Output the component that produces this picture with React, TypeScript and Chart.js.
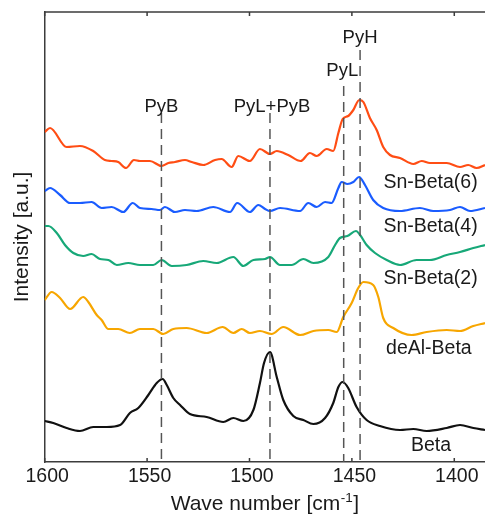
import React, { useEffect, useRef } from "react";
import { Chart, registerables } from "chart.js";

Chart.register(...registerables);

const FONT = '"Liberation Sans", Arial, Helvetica, sans-serif';
const TEXT = "#1a1a1a";
const AXIS = "#3c3c3c";

// x axis (wave number, cm-1), reversed
const xMin = 1385;
const xMax = 1600;
const xTicks = [1400, 1450, 1500, 1550, 1600];
const yMin = 0;
const yMax = 4.5;

const seriesNames = ["Sn-Beta(6)", "Sn-Beta(4)", "Sn-Beta(2)", "deAl-Beta", "Beta"];

const snBeta6Wn = [1600, 1597.4, 1589.3, 1582.8, 1576.3, 1570.6, 1567.3, 1564.1, 1560.3, 1556.4, 1553.5, 1548.6, 1542.9, 1539.6, 1536.4, 1531.5, 1528.2, 1522.6, 1516.8, 1513.6, 1508.7, 1505.5, 1499.8, 1494.9, 1490, 1486.7, 1481.1, 1475, 1470.5, 1467.2, 1462.3, 1459.1, 1456.6, 1454.5, 1451.8, 1449.3, 1446.4, 1444.4, 1441.2, 1437.9, 1434.7, 1431.4, 1426.5, 1420, 1415.9, 1411.9, 1403.7, 1397.2, 1393.2, 1389.1, 1385];
const snBeta6I = [3.30, 3.34, 3.15, 3.16, 3.11, 3.02, 3.01, 3.00, 2.94, 3.02, 3.01, 3.01, 2.96, 2.99, 3.00, 3.02, 3.00, 2.97, 3.02, 3.03, 2.95, 3.06, 3.01, 3.13, 3.08, 3.11, 3.07, 3.01, 3.09, 3.06, 3.13, 3.11, 3.29, 3.43, 3.46, 3.52, 3.62, 3.60, 3.44, 3.32, 3.15, 3.07, 3.04, 2.98, 3.01, 2.99, 2.99, 2.95, 2.97, 2.94, 2.97];

const snBeta4Wn = [1600, 1597.4, 1592.5, 1587.6, 1582.8, 1577.1, 1572.2, 1567.3, 1561.6, 1557, 1553.5, 1547.8, 1543.7, 1541.3, 1536.4, 1531.5, 1525.8, 1517.7, 1509.5, 1506, 1499.8, 1495.7, 1492.4, 1490, 1485.1, 1475.3, 1471.3, 1467.2, 1463.1, 1459.9, 1456.6, 1455, 1452.2, 1449.3, 1446.5, 1443.6, 1439.6, 1434.7, 1426.5, 1416.8, 1410.3, 1402.1, 1397.2, 1392.3, 1385];
const snBeta4I = [2.71, 2.74, 2.67, 2.59, 2.59, 2.60, 2.54, 2.55, 2.50, 2.59, 2.54, 2.53, 2.52, 2.55, 2.50, 2.52, 2.51, 2.55, 2.50, 2.59, 2.50, 2.57, 2.53, 2.51, 2.54, 2.51, 2.59, 2.55, 2.60, 2.59, 2.74, 2.80, 2.78, 2.80, 2.85, 2.77, 2.62, 2.54, 2.51, 2.54, 2.51, 2.52, 2.55, 2.51, 2.54];

const snBeta2Wn = [1600, 1598.2, 1594.1, 1590.1, 1586, 1581.2, 1577.1, 1573, 1568.9, 1564.8, 1559.2, 1553.5, 1547, 1542.9, 1538, 1530.7, 1522.6, 1516, 1507.9, 1503, 1498.1, 1492.4, 1490, 1485.1, 1479.4, 1473.7, 1468.8, 1461.5, 1458.2, 1455.8, 1452.2, 1448, 1446, 1442.8, 1438.7, 1433, 1426.5, 1418.4, 1411.9, 1403.7, 1397.2, 1390.7, 1385];
const snBeta2I = [2.36, 2.36, 2.29, 2.17, 2.09, 2.06, 2.08, 2.03, 2.02, 1.97, 1.99, 1.97, 1.97, 2.02, 1.96, 1.97, 2.01, 1.99, 2.05, 1.96, 2.02, 2.03, 2.05, 1.97, 1.97, 2.03, 1.99, 2.05, 2.17, 2.24, 2.26, 2.31, 2.27, 2.17, 2.09, 2.02, 1.97, 2.02, 2.02, 2.07, 2.10, 2.14, 2.17];

const deAlBetaWn = [1600, 1596.6, 1592.5, 1587.6, 1581.2, 1578.7, 1574.6, 1572.2, 1568.9, 1564.1, 1558.4, 1553.5, 1547, 1542.1, 1537.2, 1530.7, 1520.9, 1513.1, 1507.9, 1503.8, 1499.8, 1494.9, 1489.2, 1483.5, 1475.3, 1468.8, 1461.5, 1457.4, 1454.2, 1450.1, 1446.9, 1444.4, 1439.6, 1437.1, 1434.7, 1429.8, 1420.8, 1413.5, 1403.7, 1397.2, 1390.7, 1385];
const deAlBetaI = [1.62, 1.70, 1.64, 1.53, 1.65, 1.60, 1.47, 1.42, 1.33, 1.33, 1.29, 1.33, 1.33, 1.28, 1.33, 1.34, 1.29, 1.35, 1.29, 1.33, 1.29, 1.31, 1.28, 1.35, 1.27, 1.31, 1.32, 1.30, 1.45, 1.59, 1.74, 1.80, 1.77, 1.65, 1.44, 1.34, 1.27, 1.30, 1.32, 1.31, 1.36, 1.39];

const betaWn = [1600, 1595.8, 1589.3, 1582.8, 1576.3, 1569.7, 1563.2, 1558.4, 1554.3, 1549.4, 1545.3, 1542.4, 1540.4, 1537.2, 1533.9, 1529.1, 1520.9, 1512.8, 1507.9, 1503, 1498.1, 1494.9, 1492.9, 1490, 1486.7, 1483.5, 1478.6, 1473.7, 1468.8, 1463.1, 1459.1, 1456.6, 1454.5, 1451.8, 1447.7, 1442.8, 1436.3, 1426.5, 1420, 1413.5, 1403.7, 1397.2, 1390.7, 1385];
const betaI = [0.41, 0.39, 0.34, 0.31, 0.35, 0.35, 0.37, 0.49, 0.54, 0.67, 0.79, 0.83, 0.77, 0.64, 0.57, 0.48, 0.45, 0.40, 0.44, 0.41, 0.52, 0.79, 0.99, 1.10, 0.85, 0.62, 0.46, 0.42, 0.38, 0.44, 0.59, 0.75, 0.80, 0.74, 0.55, 0.42, 0.36, 0.32, 0.33, 0.31, 0.34, 0.37, 0.34, 0.32];

// reference bands (dashed lines)
const bandNames = ["PyB", "PyL+PyB", "PyL", "PyH"];
const bandWn = [1543, 1490, 1454, 1446];
const bandTop = [3.49, 3.49, 3.76, 4.12];

const seriesColors = ["#ff4d14", "#1a5cff", "#17a878", "#f7a600", "#111111"];

function pts(wn: number[], v: number[]) {
  return wn.map((x, i) => ({ x, y: v[i] }));
}

const decorPlugin = {
  id: "decor",
  afterDraw(chart: any) {
    const { ctx, chartArea: a, scales } = chart;
    const xs = scales.x;
    const ys = scales.y;
    ctx.save();
    // top frame + inward ticks
    ctx.strokeStyle = AXIS;
    ctx.lineWidth = 1.5;
    ctx.beginPath();
    ctx.moveTo(a.left, a.top);
    ctx.lineTo(a.right + 2, a.top);
    for (const t of xTicks) {
      const px = xs.getPixelForValue(t);
      ctx.moveTo(px, a.top);
      ctx.lineTo(px, a.top + 4);
      ctx.moveTo(px, a.bottom);
      ctx.lineTo(px, a.bottom - 4);
    }
    ctx.stroke();

    ctx.fillStyle = TEXT;
    ctx.textAlign = "center";
    ctx.textBaseline = "alphabetic";
    // band labels
    ctx.font = `18.5px ${FONT}`;
    const bandLabelY = [3.505, 3.505, 3.86, 4.19];
    const bandLabelWn = [1543, 1489, 1454.7, 1446];
    bandNames.forEach((n, i) => {
      ctx.fillText(n, xs.getPixelForValue(bandLabelWn[i]), ys.getPixelForValue(bandLabelY[i]));
    });
    // series labels
    ctx.font = `19.5px ${FONT}`;
    const labelY = [2.743, 2.303, 1.78, 1.08, 0.113];
    const labelWn = [1411.6, 1411.6, 1411.6, 1412.4, 1411.4];
    seriesNames.forEach((n, i) => {
      ctx.fillText(n, xs.getPixelForValue(labelWn[i]), ys.getPixelForValue(labelY[i]));
    });

    // x title with superscript
    const main = "Wave number [cm";
    const sup = "-1";
    const end = "]";
    const bigF = `21px ${FONT}`;
    const supF = `13.5px ${FONT}`;
    ctx.font = bigF;
    const w1 = ctx.measureText(main).width;
    const w3 = ctx.measureText(end).width;
    ctx.font = supF;
    const w2 = ctx.measureText(sup).width + 1;
    const total = w1 + w2 + w3;
    const cx = (a.left + a.right) / 2;
    const x0 = cx - total / 2;
    const base = 510;
    ctx.textAlign = "left";
    ctx.font = bigF;
    ctx.fillText(main, x0, base);
    ctx.font = supF;
    ctx.fillText(sup, x0 + w1 + 0.5, base - 8);
    ctx.font = bigF;
    ctx.fillText(end, x0 + w1 + w2, base);

    // y title
    ctx.translate(22.5, (a.top + a.bottom) / 2);
    ctx.rotate(-Math.PI / 2);
    ctx.textAlign = "center";
    ctx.textBaseline = "middle";
    ctx.font = `21px ${FONT}`;
    ctx.fillText("Intensity [a.u.]", 0, 0);
    ctx.restore();
  },
};

export default function App() {
  const ref = useRef<HTMLCanvasElement | null>(null);

  useEffect(() => {
    document.body.style.margin = "0";
    const canvas = ref.current;
    if (!canvas) return;
    const seriesData = [
      pts(snBeta6Wn, snBeta6I),
      pts(snBeta4Wn, snBeta4I),
      pts(snBeta2Wn, snBeta2I),
      pts(deAlBetaWn, deAlBetaI),
      pts(betaWn, betaI),
    ];
    const datasets: any[] = seriesData.map((d, i) => ({
      label: seriesNames[i],
      data: d,
      borderColor: seriesColors[i],
      backgroundColor: seriesColors[i],
      borderWidth: 2.2,
      pointRadius: 0,
      cubicInterpolationMode: "monotone",
      order: 5,
    }));
    bandNames.forEach((n, i) => {
      datasets.push({
        label: n,
        data: [
          { x: bandWn[i], y: bandTop[i] },
          { x: bandWn[i], y: yMin },
        ],
        borderColor: "#555555",
        borderWidth: 1.5,
        borderDash: [10, 6],
        pointRadius: 0,
        order: 1,
      });
    });

    const chart = new Chart(canvas, {
      type: "line",
      data: { datasets },
      options: {
        responsive: false,
        animation: false,
        devicePixelRatio: 1,
        layout: { padding: { top: 12, left: 0, right: 0, bottom: 0 } },
        plugins: { legend: { display: false }, tooltip: { enabled: false } },
        scales: {
          x: {
            type: "linear",
            reverse: true,
            min: xMin,
            max: xMax,
            afterBuildTicks: (s: any) => {
              s.ticks = xTicks.map((v) => ({ value: v }));
            },
            afterFit: (s: any) => {
              s.height = 53;
            },
            ticks: {
              callback: (v: any) => String(v),
              font: { family: FONT, size: 19.5 },
              color: TEXT,
              padding: 3,
              labelOffset: 2.5,
              maxRotation: 0,
              autoSkip: false,
            },
            grid: { display: false, drawTicks: false },
            border: { display: true, color: AXIS, width: 1.5 },
          },
          y: {
            type: "linear",
            min: yMin,
            max: yMax,
            afterFit: (s: any) => {
              s.width = 44.7;
            },
            ticks: { display: false },
            grid: { display: false, drawTicks: false },
            border: { display: true, color: AXIS, width: 1.5 },
          },
        },
      },
      plugins: [decorPlugin],
    } as any);
    return () => chart.destroy();
  }, []);

  return (
    <div style={{ position: "fixed", left: 0, top: 0, width: 485, height: 515, overflow: "hidden", background: "#fff" }}>
      <canvas ref={ref} width={485} height={515} style={{ width: 485, height: 515, display: "block" }} />
    </div>
  );
}
